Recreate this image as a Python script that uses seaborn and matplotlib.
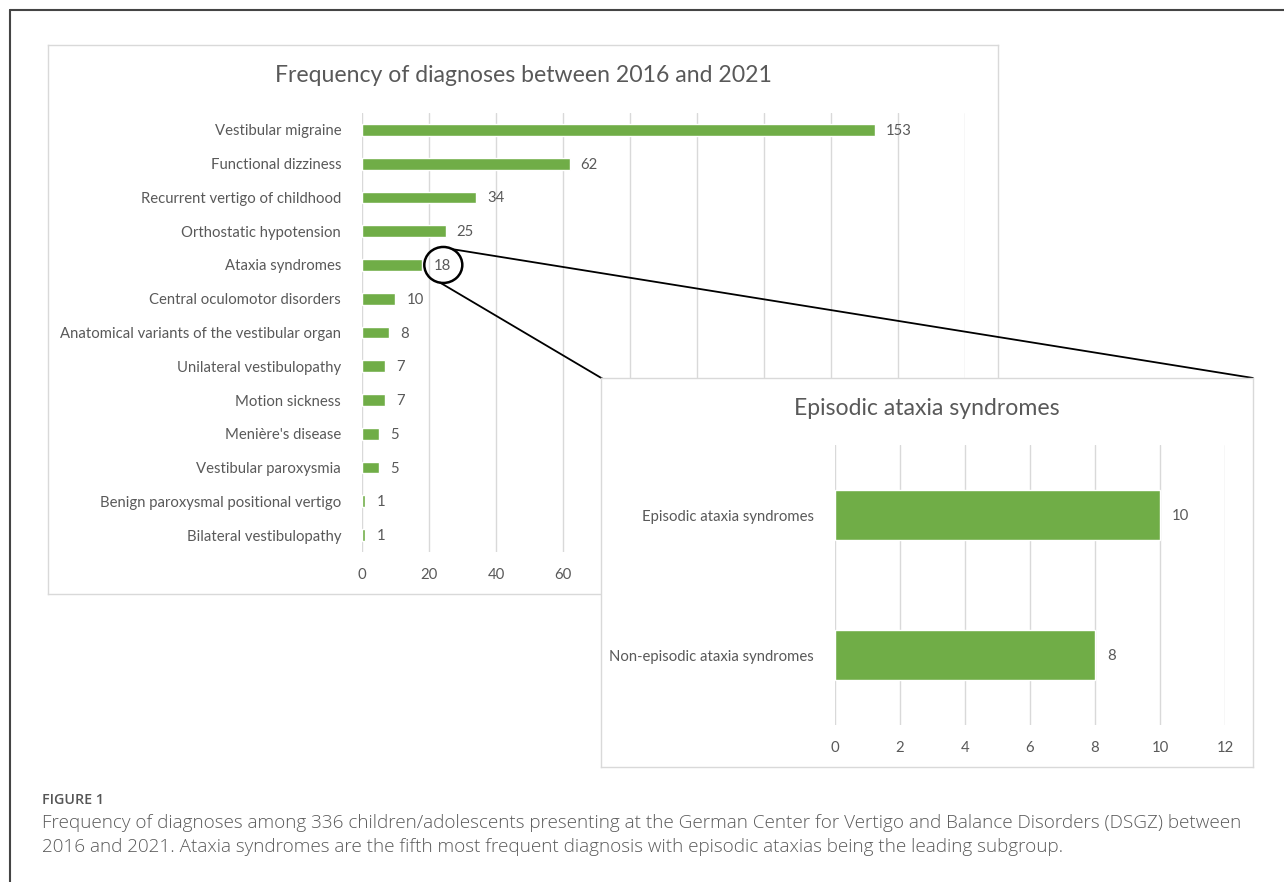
import matplotlib
matplotlib.use("Agg")
import matplotlib.pyplot as plt
import seaborn as sns
import numpy as np
import pandas as pd
from matplotlib.patches import Ellipse
from matplotlib.lines import Line2D

# ---------------- data ----------------
diagnoses = [
    "Vestibular migraine",
    "Functional dizziness",
    "Recurrent vertigo of childhood",
    "Orthostatic hypotension",
    "Ataxia syndromes",
    "Central oculomotor disorders",
    "Anatomical variants of the vestibular organ",
    "Unilateral vestibulopathy",
    "Motion sickness",
    "Menière's disease",
    "Vestibular paroxysmia",
    "Benign paroxysmal positional vertigo",
    "Bilateral vestibulopathy",
]
counts = [153, 62, 34, 25, 18, 10, 8, 7, 7, 5, 5, 1, 1]
main_ticks = [0, 20, 40, 60, 80, 100, 120, 140, 160, 180]

ataxia_types = ["Episodic ataxia syndromes", "Non-episodic ataxia syndromes"]
ataxia_counts = [10, 8]
inset_ticks = [0, 2, 4, 6, 8, 10, 12]

main_title = "Frequency of diagnoses between 2016 and 2021"
inset_title = "Episodic ataxia syndromes"
caption_head = "FIGURE 1"
caption_lines = [
    "Frequency of diagnoses among 336 children/adolescents presenting at the German Center for Vertigo and Balance Disorders (DSGZ) between",
    "2016 and 2021. Ataxia syndromes are the fifth most frequent diagnosis with episodic ataxias being the leading subgroup.",
]

# ---------------- style ----------------
sns.set_theme(style="white")
FONT = ["Lato", "DejaVu Sans"]
plt.rcParams["font.family"] = FONT

GREEN = "#70AD47"
TXT = "#595959"
GRID = "#D9D9D9"
LFS = 10.7   # label font size
TFS = 16.6   # title font size

W, H = 1284, 882
fig = plt.figure(figsize=(W / 100, H / 100), dpi=100)
fig.patch.set_facecolor("white")


def px_axes(x0, y0, x1, y1, **kw):
    """axes from pixel box (top-left origin)"""
    return fig.add_axes([x0 / W, 1 - y1 / H, (x1 - x0) / W, (y1 - y0) / H], **kw)


def panel(x0, y0, x1, y1):
    a = px_axes(x0, y0, x1, y1)
    a.set_facecolor("white")
    a.set_xticks([])
    a.set_yticks([])
    for s in a.spines.values():
        s.set_color(GRID)
        s.set_linewidth(1.0)
    return a


def style_bar_axes(a, ticks, fs):
    a.set_xlim(ticks[0], ticks[-1])
    a.set_xticks(ticks)
    a.set_xlabel("")
    a.set_ylabel("")
    a.grid(axis="x", color=GRID, linewidth=1.0)
    a.grid(axis="y", visible=False)
    a.set_axisbelow(True)
    for s in a.spines.values():
        s.set_visible(False)
    a.tick_params(axis="both", length=0, labelsize=fs, colors=TXT)
    a.tick_params(axis="y", pad=15)
    a.tick_params(axis="x", pad=11.5)
    a.set_facecolor("none")


# ---------------- main panel ----------------
panel(48, 45, 998, 594)
ax = px_axes(362, 113, 965, 552)
df = pd.DataFrame({"diagnosis": diagnoses, "count": counts})
sns.barplot(data=df, x="count", y="diagnosis", orient="h", color=GREEN,
            width=0.35, ax=ax, saturation=1)
style_bar_axes(ax, main_ticks, LFS)
ax.set_ylim(len(diagnoses) - 0.5, -0.5)
for i, v in enumerate(counts):
    ax.annotate(str(v), (v, i), xytext=(11, -1), textcoords="offset pixels",
                ha="left", va="center", fontsize=LFS, color=TXT)
fig.text(523 / W, 1 - 76 / H, main_title, ha="center", va="center",
         fontsize=TFS, color=TXT)

# ---------------- connector overlay ----------------
fig.canvas.draw()
ov = fig.add_axes([0, 0, 1, 1])
ov.set_xlim(0, W)
ov.set_ylim(0, H)
ov.axis("off")
ov.patch.set_alpha(0)

idx18 = 4
cx, cy = ax.transData.transform((counts[idx18], idx18))
cx += 21  # centre on the value label
r = 18
ov.add_patch(Ellipse((cx, cy), 2 * r + 2, 2 * r, fill=False, edgecolor="black", linewidth=1.8))

# inset panel corners (pixel, top-left origin)
ix0, iy0, ix1, iy1 = 601, 378, 1253, 767
p1 = (cx + r * np.cos(np.radians(62)), cy + r * np.sin(np.radians(62)))
p2 = (cx + r * np.cos(np.radians(-100)), cy + r * np.sin(np.radians(-100)))
ov.add_line(Line2D([p1[0], ix1], [p1[1], H - iy0], color="black", linewidth=1.3))
ov.add_line(Line2D([p2[0], ix0 + 2], [p2[1], H - iy0 - 1], color="black", linewidth=1.3))

# ---------------- inset panel ----------------
panel(ix0, iy0, ix1, iy1)
ax2 = px_axes(835, 445, 1225, 725)
df2 = pd.DataFrame({"type": ataxia_types, "count": ataxia_counts})
sns.barplot(data=df2, x="count", y="type", orient="h", color=GREEN,
            width=0.36, ax=ax2, saturation=1)
style_bar_axes(ax2, inset_ticks, LFS)
ax2.set_ylim(len(ataxia_types) - 0.5, -0.5)
for i, v in enumerate(ataxia_counts):
    ax2.annotate(str(v), (v, i), xytext=(12, -1), textcoords="offset pixels",
                 ha="left", va="center", fontsize=LFS, color=TXT)
fig.text(927 / W, 1 - 408 / H, inset_title, ha="center", va="center",
         fontsize=TFS, color=TXT)

# ---------------- outer frame ----------------
ov2 = fig.add_axes([0, 0, 1, 1])
ov2.set_xlim(0, W)
ov2.set_ylim(0, H)
ov2.axis("off")
ov2.patch.set_alpha(0)
ov2.add_line(Line2D([10, W], [H - 10, H - 10], color="#444444", linewidth=1.5))
ov2.add_line(Line2D([10, 10], [H - 10, 0], color="#444444", linewidth=1.5))

# ---------------- caption ----------------
CAP = ["Open Sans", "DejaVu Sans"]
fig.text(42 / W, 1 - 800 / H, caption_head, ha="left", va="center",
         fontsize=10.3, color="#555555", family=CAP, fontweight="semibold")
for k, line in enumerate(caption_lines):
    fig.text(42 / W, 1 - (823 + 24 * k) / H, line, ha="left", va="center",
             fontsize=13.6, color="#5a5a5a", family=CAP, fontweight="light")

fig.savefig("out.png", dpi=100)
